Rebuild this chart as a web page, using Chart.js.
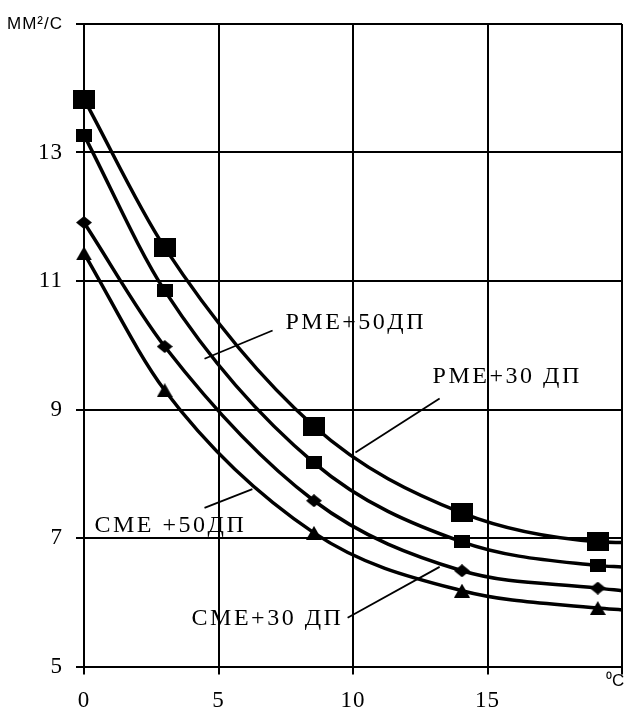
<!DOCTYPE html>
<html><head><meta charset="utf-8">
<script src="https://cdn.jsdelivr.net/npm/chart.js@4"></script>
<style>html,body{margin:0;padding:0;background:#fff;overflow:hidden}#wrap{width:629px;height:709px;position:relative}</style>
</head><body><div id="wrap"><canvas id="c"></canvas></div>
<script>
// ---- data ----
const temperature = [0, 3, 8.55, 14.05, 19.1, 20];
const rme50 = [13.83, 11.52, 8.74, 7.39, 6.94, 6.93];
const rme30 = [13.27, 10.85, 8.17, 6.94, 6.57, 6.55];
const sme50 = [11.91, 9.98, 7.58, 6.49, 6.22, 6.18];
const sme30 = [11.43, 9.30, 7.08, 6.18, 5.91, 5.88];
const xTicks = [0, 5, 10, 15, 20];
const yTicks = [5, 7, 9, 11, 13, 15];
const seriesNames = ['РМЕ+50ДП', 'РМЕ+30 ДП', 'СМЕ +50ДП', 'СМЕ+30 ДП'];
const yUnit = 'ММ²/С';
const xUnit = '⁰С';

function marker(type, w, h) {
  const c = document.createElement('canvas');
  c.width = w; c.height = h;
  const g = c.getContext('2d');
  g.fillStyle = '#000';
  g.beginPath();
  if (type === 'rect') g.rect(0, 0, w, h);
  else if (type === 'diamond') { g.moveTo(w/2, 0); g.lineTo(w, h/2); g.lineTo(w/2, h); g.lineTo(0, h/2); }
  else { g.moveTo(w/2, 0); g.lineTo(w, h); g.lineTo(0, h); }
  g.closePath(); g.fill();
  return c;
}
const mBig = marker('rect', 22, 19), mSmall = marker('rect', 16, 13),
      mDiam = marker('diamond', 16, 13), mTri = marker('tri', 16, 14);

const pts = (ys) => temperature.map((x, i) => ({x, y: ys[i]}));
const radii = temperature.map((x, i) => i < temperature.length - 1 ? 10 : 0);
function ds(label, ys, img) {
  return {label, data: pts(ys), borderColor: '#000', backgroundColor: '#000', borderWidth: 3.5,
    cubicInterpolationMode: 'monotone', pointStyle: img, pointRadius: radii, pointHoverRadius: radii, clip: false};
}

const labelsPlugin = {
  id: 'seriesLabels',
  beforeDraw(chart) { chart.ctx.letterSpacing = '1px'; },
  afterDraw(chart, args, opts) {
    const ctx = chart.ctx, xs = chart.scales.x, ys = chart.scales.y;
    ctx.save();
    ctx.strokeStyle = '#000'; ctx.lineWidth = 1.8; ctx.fillStyle = '#000';
    ctx.font = '24px "Liberation Serif"'; ctx.letterSpacing = '2.5px';
    ctx.textBaseline = 'alphabetic'; ctx.textAlign = 'left';
    opts.items.forEach(it => {
      ctx.beginPath();
      ctx.moveTo(xs.getPixelForValue(it.line[0]), ys.getPixelForValue(it.line[1]));
      ctx.lineTo(xs.getPixelForValue(it.line[2]), ys.getPixelForValue(it.line[3]));
      ctx.stroke();
      ctx.fillText(it.text, xs.getPixelForValue(it.x), ys.getPixelForValue(it.y));
    });
    ctx.letterSpacing = '0px';
    ctx.font = '17px "Liberation Sans"';
    ctx.fillText(xUnit, xs.getPixelForValue(20) - 16, chart.chartArea.bottom + 19);
    ctx.restore();
    ctx.letterSpacing = '0px';
  }
};

new Chart(document.getElementById('c'), {
  type: 'line',
  data: { datasets: [ds(seriesNames[0], rme50, mBig), ds(seriesNames[1], rme30, mSmall),
                     ds(seriesNames[2], sme50, mDiam), ds(seriesNames[3], sme30, mTri)] },
  plugins: [labelsPlugin],
  options: {
    responsive: true, maintainAspectRatio: false, animation: false,
    layout: { autoPadding: false, padding: { top: 24, right: 7, left: 0, bottom: 0 } },
    plugins: {
      legend: { display: false }, tooltip: { enabled: false },
      seriesLabels: { items: [
        { text: seriesNames[0], x: 7.49, y: 10.26, line: [7.01, 10.23, 4.48, 9.79] },
        { text: seriesNames[1], x: 12.96, y: 9.42, line: [13.22, 9.17, 10.09, 8.33] },
        { text: seriesNames[2], x: 0.39, y: 7.10, line: [4.48, 7.47, 6.26, 7.76] },
        { text: seriesNames[3], x: 4.0, y: 5.65, line: [9.80, 5.76, 13.22, 6.55] }
      ] }
    },
    scales: {
      x: {
        type: 'linear', min: 0, max: 20,
        afterBuildTicks: s => { s.ticks = xTicks.map(v => ({value: v})); },
        afterFit: s => { s.height = 42.5; s.paddingRight = 0; s.paddingLeft = 0; },
        grid: { color: '#000', lineWidth: 2, tickLength: 8, tickColor: '#000', drawTicks: true },
        border: { display: true, color: '#000', width: 2 },
        ticks: { color: '#000', padding: 13, maxRotation: 0, autoSkip: false,
          font: { family: 'Liberation Serif', size: 23 },
          callback: v => v === 20 ? '' : String(v) }
      },
      y: {
        type: 'linear', min: 5, max: 15,
        afterBuildTicks: s => { s.ticks = yTicks.map(v => ({value: v})); },
        afterFit: s => { s.width = 84; },
        grid: { color: '#000', lineWidth: 2, tickLength: 8, tickColor: '#000', drawTicks: true },
        border: { display: true, color: '#000', width: 2 },
        ticks: { color: '#000', padding: 13, autoSkip: false,
          font: c => (c.tick && c.tick.value === 15) ? { family: 'Liberation Sans', size: 17 } : { family: 'Liberation Serif', size: 23 },
          callback: v => v === 15 ? yUnit : String(v) }
      }
    }
  }
});
</script></body></html>
